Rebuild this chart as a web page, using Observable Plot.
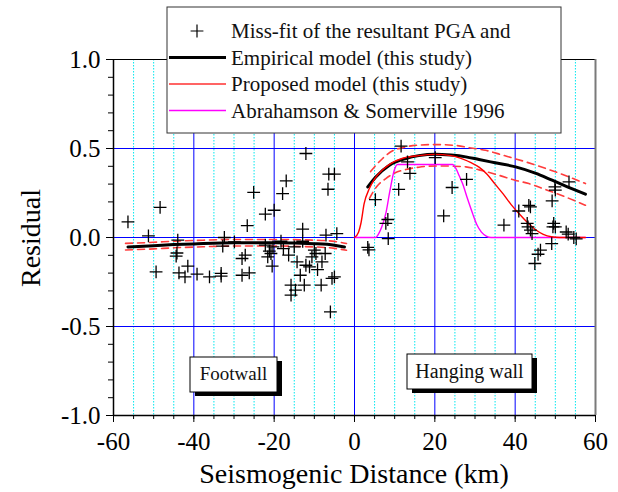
<!DOCTYPE html>
<html><head><meta charset="utf-8">
<script src="https://cdn.jsdelivr.net/npm/d3@7"></script>
<script src="https://cdn.jsdelivr.net/npm/@observablehq/plot@0.6"></script>
<style>body{margin:0;background:#fff} #chart{position:relative;width:618px;height:492px}</style>
</head><body><div id="chart"></div>
<script>
// Miss-fit residuals (distance km, residual)
const missfitX = [-56.4,-48.4,-51.3,-49.4,-44.0,-44.2,-44.4,-43.7,-41.5,-42.2,-39.2,-36.1,-33.2,-33.2,-32.4,-32.8,-29.9,
  -12.1,-5.0,-6.4,-6.6,-17.0,-17.9,-25.1,-20.0,-22.2,-26.7,-12.9,-7.1,-4.4,-18.3,-12.9,-22.2,-15.0,-20.3,-17.7,-21.2,-20.8,-21.6,-16.4,
  -10.0,-9.6,-7.3,-10.6,-14.3,-12.1,-11.2,-8.1,-9.2,-20.5,-27.2,-28.0,-26.2,-28.0,-13.5,-15.8,-12.5,-14.7,-15.8,-8.3,-5.0,-5.6,-6.0,
  3.3,3.6,11.6,13.2,13.8,11.0,5.2,20.1,27.9,24.3,22.2,8.3,7.8,8.4,
  53.4,49.9,50.0,49.2,43.4,43.8,40.9,37.2,43.0,43.2,43.8,44.2,49.6,50.0,49.4,52.7,53.2,54.6,55.2,49.1,46.3,45.7,44.9];
const missfitY = [0.088,0.169,0.009,-0.193,-0.015,-0.087,-0.105,-0.199,-0.161,-0.221,-0.206,-0.221,-0.202,-0.217,0.0,-0.049,-0.025,
  0.472,0.356,0.356,0.271,0.318,0.247,0.253,0.153,0.131,0.067,0.047,0.013,0.022,-0.021,-0.021,-0.043,-0.053,-0.053,-0.062,-0.077,-0.090,-0.109,-0.099,
  -0.071,-0.090,-0.090,-0.109,-0.137,-0.156,-0.165,-0.137,-0.180,-0.161,-0.099,-0.118,-0.199,-0.212,-0.212,-0.268,-0.268,-0.296,-0.324,-0.268,-0.221,-0.230,-0.418,
  -0.056,-0.069,0.513,0.425,0.360,0.270,0.213,0.449,0.326,0.281,0.121,0.101,0.079,-0.006,
  0.312,0.284,0.266,0.206,0.181,0.172,0.149,0.069,0.079,0.060,0.041,0.022,0.079,0.060,0.060,0.031,0.019,0.0,-0.008,-0.034,-0.071,-0.094,-0.146];

// Empirical model (this study) - footwall side
const empFootX = [-56.4,-50,-45,-40,-30,-20,-10,-5,-2.5];
const empFootY = [-0.053,-0.046,-0.040,-0.036,-0.030,-0.030,-0.035,-0.043,-0.053];
const bandFootX = [-57,-50,-45,-40,-30,-20,-10,-5,-2];
const bandFootUpperY = [-0.033,-0.027,-0.021,-0.017,-0.011,-0.011,-0.015,-0.022,-0.034];
const bandFootLowerY = [-0.070,-0.064,-0.058,-0.054,-0.048,-0.048,-0.053,-0.061,-0.072];

// Empirical model (this study) - hanging wall side
const empHangX = [3.3,5.3,8.7,12.8,16,20.1,24,27.7,31,35,40.1,45,49.2,53,57.5];
const empHangY = [0.284,0.34,0.406,0.444,0.460,0.468,0.463,0.453,0.438,0.42,0.397,0.362,0.322,0.285,0.243];
const bandHangUpperX = [4,5.5,7,9.5,12,14.5,20,25.2,29,32.6,37,42.6,46,50,54,57.5];
const bandHangUpperY = [0.37,0.41,0.444,0.487,0.505,0.516,0.522,0.517,0.503,0.49,0.462,0.425,0.40,0.369,0.335,0.303];
const bandHangLowerX = [3.7,5.5,7.8,10,12.8,16,20.3,24,27.7,31,35.9,40,43.4,48,52.5,57.5];
const bandHangLowerY = [0.219,0.285,0.331,0.362,0.382,0.395,0.402,0.401,0.397,0.38,0.35,0.322,0.303,0.266,0.228,0.181];

// Proposed model (this study)
const propX = [0,1,1.6,2.4,3.7,5,7,9,12,16,20,24,27,29,31,33,35,37,39,41,43,45,47,49,51,57.5];
const propY = [0,0.03,0.08,0.19,0.275,0.33,0.38,0.415,0.445,0.46,0.467,0.46,0.44,0.42,0.395,0.355,0.30,0.245,0.185,0.133,0.085,0.045,0.018,0.004,0,0];

// Abrahamson & Somerville 1996
const asX = [0,5.3,6,6.8,7.8,8.8,9.9,10.7,24.4,25.3,26.1,26.9,28.1,29.4,30.5,31.6,32.8,34,57.5];
const asY = [0,0,0.02,0.06,0.135,0.26,0.378,0.41,0.41,0.385,0.345,0.303,0.22,0.135,0.07,0.03,0.008,0,0];

// ticks / grid
const xTicks = [-60,-40,-20,0,20,40,60];
const xMinorTicks = [-60,-55,-50,-45,-40,-35,-30,-25,-20,-15,-10,-5,0,5,10,15,20,25,30,35,40,45,50,55,60];
const xMinorGrid = [-55,-50,-45,-35,-30,-25,-15,-10,-5,5,10,15,25,30,35,45,50,55];
const xMajorGrid = [-40,-20,0,20,40];
const yTicks = [-1,-0.5,0,0.5,1];
const yMinorTicks = [-1,-0.9,-0.8,-0.7,-0.6,-0.5,-0.4,-0.3,-0.2,-0.1,0,0.1,0.2,0.3,0.4,0.5,0.6,0.7,0.8,0.9,1];
const yGrid = [-0.5,0,0.5];

const legendLabels = ["Miss-fit of the resultant PGA and","Empirical model (this study)","Proposed model (this study)","Abrahamson & Somerville 1996"];
const zoneLabels = ["Footwall","Hanging wall"];
const xTitle = "Seismogenic Distance (km)";
const yTitle = "Residual";

const toPts = (xs, ys) => xs.map((x, i) => ({x, y: ys[i]}));
const pts = toPts(missfitX, missfitY);
const dash = {stroke:"#ff3c3c", strokeWidth:1.6, strokeDasharray:"7,5", curve:"monotone-x"};
const FONT = "'Liberation Serif','Times New Roman',serif";

const svg = Plot.plot({
  width:618, height:492, marginLeft:113, marginRight:23, marginTop:59, marginBottom:77,
  x:{domain:[-60,60]}, y:{domain:[-1,1]},
  style:{fontFamily:FONT, fontSize:"25px", color:"#000", background:"#fff", overflow:"visible"},
  marks:[
    Plot.ruleX(xMinorGrid, {stroke:"#00e8f0", strokeDasharray:"1.5,1.5", strokeWidth:1}),
    Plot.ruleX(xMajorGrid, {stroke:"#0000ff", strokeWidth:1}),
    Plot.ruleY(yGrid, {stroke:"#0000ff", strokeWidth:1}),
    Plot.ruleY([1], {stroke:"#000", strokeWidth:1}),
    Plot.ruleX([60], {stroke:"#7a7a7a", strokeWidth:2}),
    Plot.line(toPts(bandFootX, bandFootUpperY), {x:"x", y:"y", ...dash}),
    Plot.line(toPts(bandFootX, bandFootLowerY), {x:"x", y:"y", ...dash}),
    Plot.line(toPts(bandHangUpperX, bandHangUpperY), {x:"x", y:"y", ...dash}),
    Plot.line(toPts(bandHangLowerX, bandHangLowerY), {x:"x", y:"y", ...dash}),
    Plot.line(toPts(asX, asY), {x:"x", y:"y", stroke:"#ff00ff", strokeWidth:1.4, curve:"monotone-x"}),
    Plot.line(toPts(empFootX, empFootY), {x:"x", y:"y", stroke:"#000", strokeWidth:3, curve:"monotone-x"}),
    Plot.line(toPts(empHangX, empHangY), {x:"x", y:"y", stroke:"#000", strokeWidth:3, curve:"monotone-x"}),
    Plot.line(toPts(propX, propY), {x:"x", y:"y", stroke:"#ff0000", strokeWidth:1.4, curve:"monotone-x"}),
    Plot.dot(pts, {x:"x", y:"y", symbol:"plus", r:4.2, stroke:"#000", strokeWidth:1.3}),
    Plot.ruleX([-60], {stroke:"#000", strokeWidth:1.5}),
    Plot.ruleY([-1], {stroke:"#000", strokeWidth:1.5}),
    Plot.axisX({ticks:xTicks, tickSize:7, tickPadding:10, tickFormat:d => d.toFixed(0), label:null, fontSize:25}),
    Plot.axisX({ticks:xMinorTicks, tickSize:4, tickFormat:() => "", label:null}),
    Plot.axisY({ticks:yTicks, tickSize:7, tickPadding:6, tickFormat:d => d.toFixed(1), label:null, fontSize:25}),
    Plot.axisY({ticks:yMinorTicks, tickSize:5, tickFormat:() => "", label:null})
  ]
});
document.getElementById("chart").appendChild(svg);

const s = d3.select(svg);
// axis titles
s.append("text").attr("x", 354).attr("y", 483).attr("text-anchor","middle")
  .attr("font-family", FONT).attr("font-size", 28).attr("fill","#000").text(xTitle);
s.append("text").attr("transform","translate(40,238) rotate(-90)").attr("text-anchor","middle")
  .attr("font-family", FONT).attr("font-size", 28).attr("fill","#000").text(yTitle);

// zone boxes
const boxes = [{x:190, y:357, w:87, h:35, b:379.5, fs:19}, {x:407, y:354, w:125, h:35, b:378.3, fs:20}];
boxes.forEach((b, i) => {
  s.append("rect").attr("x", b.x+5).attr("y", b.y+4).attr("width", b.w).attr("height", b.h).attr("fill","#000");
  s.append("rect").attr("x", b.x).attr("y", b.y).attr("width", b.w).attr("height", b.h).attr("fill","#fff").attr("stroke","#000").attr("stroke-width",1);
  s.append("text").attr("x", b.x + b.w/2).attr("y", b.b).attr("text-anchor","middle")
    .attr("font-family", FONT).attr("font-size", b.fs).attr("fill","#111").text(zoneLabels[i]);
});

// legend
const lg = s.append("g");
lg.append("rect").attr("x",167).attr("y",7).attr("width",394).attr("height",126).attr("fill","#fff").attr("stroke","#333").attr("stroke-width",1);
const rows = [31, 57.5, 84, 110.5];
lg.append("path").attr("d", d3.symbol(d3.symbolPlus, Math.PI*4.2*4.2)()).attr("transform", `translate(197,${rows[0]})`)
  .attr("stroke","#000").attr("stroke-width",1.2).attr("fill","none");
lg.append("line").attr("x1",169).attr("x2",226).attr("y1",rows[1]).attr("y2",rows[1]).attr("stroke","#000").attr("stroke-width",3);
lg.append("line").attr("x1",169).attr("x2",226).attr("y1",rows[2]).attr("y2",rows[2]).attr("stroke","#ff3030").attr("stroke-width",1.5);
lg.append("line").attr("x1",169).attr("x2",226).attr("y1",rows[3]).attr("y2",rows[3]).attr("stroke","#ff00ff").attr("stroke-width",1.5);
legendLabels.forEach((t, i) => {
  lg.append("text").attr("x", 231).attr("y", rows[i] + 7).attr("text-anchor","start").attr("font-family", FONT).attr("font-size", 21)
    .attr("fill","#111").text(t);
});
</script>
</body></html>
